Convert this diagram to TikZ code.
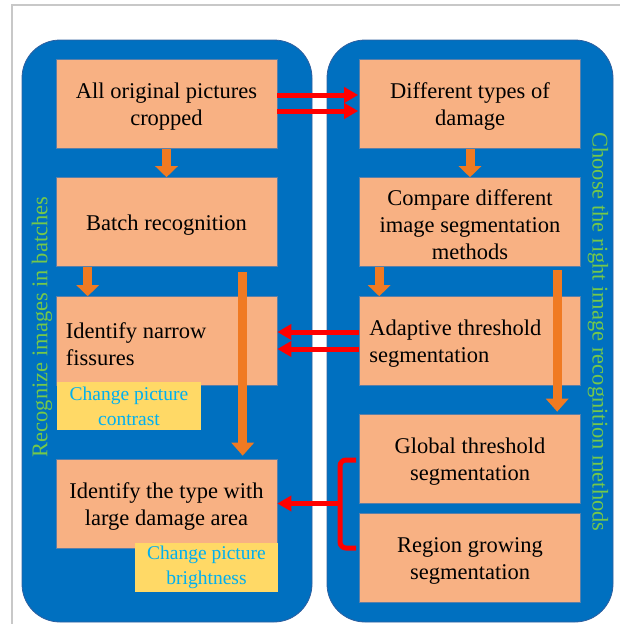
\documentclass[tikz,border=0pt]{standalone}
\usepackage{fontspec}
\setmainfont{Liberation Serif}
\newfontfamily\tnr{Liberation Serif}
\usetikzlibrary{arrows.meta,calc}
\definecolor{panelblue}{HTML}{0070C0}
\definecolor{paneledge}{HTML}{2F5F9F}
\definecolor{peach}{HTML}{F8B183}
\definecolor{boxedge}{HTML}{5B7FA8}
\definecolor{arrorange}{HTML}{F07A22}
\definecolor{noteyellow}{HTML}{FFD966}
\definecolor{notecyan}{HTML}{00B0F0}
\definecolor{sidegreen}{HTML}{74C84A}
\definecolor{framegray}{HTML}{C8C8C8}
\tikzset{
  panel/.style={draw=paneledge, line width=0.8pt, fill=panelblue, rounded corners=38pt, minimum width=#1, minimum height=582pt, inner sep=0pt},
  stepbox/.style={draw=boxedge, line width=0.6pt, fill=peach, minimum width=221pt, minimum height=89pt, inner sep=0pt},
  boxtext/.style={inner sep=0pt, align=center, yshift=-3pt, font=\tnr\fontsize{22.5}{27}\selectfont},
  lefttext/.style={boxtext, align=left, anchor=west, xshift=10pt},
  note/.style={fill=noteyellow, minimum height=48pt, inner sep=0pt, align=center, text=notecyan, font=\tnr\fontsize{19.5}{25}\selectfont},
  flowarrow/.style={draw=arrorange, line width=9pt, -{Triangle[width=22pt,length=11pt]}},
  longarrow/.style={draw=arrorange, line width=9pt, -{Triangle[width=22pt,length=13pt]}},
  redarrow/.style={draw=red, line width=5pt, -{Triangle[width=15pt,length=14pt]}},
  sidelabel/.style={text=sidegreen, font=\tnr\fontsize{22.5}{27}\selectfont, inner sep=0pt}
}
\begin{document}
\begin{tikzpicture}[x=1pt,y=-1pt]
\useasboundingbox (0,0) rectangle (620,624);
% frame
\coordinate (fa) at (12,624);
\coordinate (fb) at (12,5);
\coordinate (fc) at (620,5);
\draw[framegray, line width=1.2pt] (fa) -- (fb) -- (fc);
% panels
\node[panel=290pt] (pl) at (167,331) {};
\node[panel=286pt] (pr) at (470,331) {};
% left boxes
\node[stepbox, label={[boxtext]center:{All original pictures\\cropped}}] (b1) at (166.5,104) {};
\node[stepbox, label={[boxtext]center:{Batch recognition}}] (b2) at (166.5,222) {};
\node[stepbox, label={[lefttext]west:{Identify narrow\\fissures}}] (b3) at (166.5,341) {};
\node[stepbox, label={[boxtext]center:{Identify the type with\\large damage area}}] (b4) at (166.5,503.5) {};
% right boxes
\node[stepbox, label={[boxtext]center:{Different types of\\damage}}] (r1) at (470,104) {};
\node[stepbox, label={[boxtext]center:{Compare different\\image segmentation\\methods}}] (r2) at (470,222) {};
\node[stepbox, label={[lefttext]west:{Adaptive threshold\\segmentation}}] (r3) at (470,341) {};
\node[stepbox, label={[boxtext]center:{Global threshold\\segmentation}}] (r4) at (470,458.5) {};
\node[stepbox, label={[boxtext]center:{Region growing\\segmentation}}] (r5) at (470,557.5) {};
% notes
\node[note, minimum width=144pt] (n1) at (129,406) {Change picture\\contrast};
\node[note, minimum width=143pt, minimum height=49pt] (n2) at (206.5,567.5) {Change picture\\brightness};
% orange arrows
\draw[flowarrow] (b1.south) -- (b2.north);
\draw[flowarrow] ($(b2.south west)+(32,0)$) -- ($(b3.north west)+(32,0)$);
\draw[flowarrow] (r1.south) -- (r2.north);
\draw[flowarrow] ($(r2.south west)+(20,0)$) -- ($(r3.north west)+(20,0)$);
\draw[longarrow] ($(b2.south west)+(187,5)$) -- ($(b4.north west)+(187,-3)$);
\draw[longarrow] ($(r2.south west)+(198,3)$) -- ($(r4.north west)+(198,-2)$);
% red arrows
\draw[redarrow] ($(b1.east)+(0,-9)$) -- ($(r1.west)+(-1,-9)$);
\draw[redarrow] ($(b1.east)+(0,7)$) -- ($(r1.west)+(-1,7)$);
\draw[redarrow] ($(r3.west)+(0,-9)$) -- ($(b3.east)+(0,-9)$);
\draw[redarrow] ($(r3.west)+(0,8)$) -- ($(b3.east)+(0,8)$);
% bracket
\coordinate (bt) at ($(r4.west)+(-3,1.5)$);
\coordinate (bb) at ($(r5.west)+(-3,-9.5)$);
\coordinate (bm) at (340,503.5);
\draw[red, line width=5pt, rounded corners=6pt] (bt) -- (340,460) -- (340,548) -- (bb);
\draw[redarrow] (bm) -- (b4.east);
% side labels
\node[sidelabel, rotate=90] (sl) at (42,327) {Recognize images in batches};
\node[sidelabel, rotate=-90] (sr) at (598,332) {Choose the right image recognition methods};
\end{tikzpicture}
\end{document}
